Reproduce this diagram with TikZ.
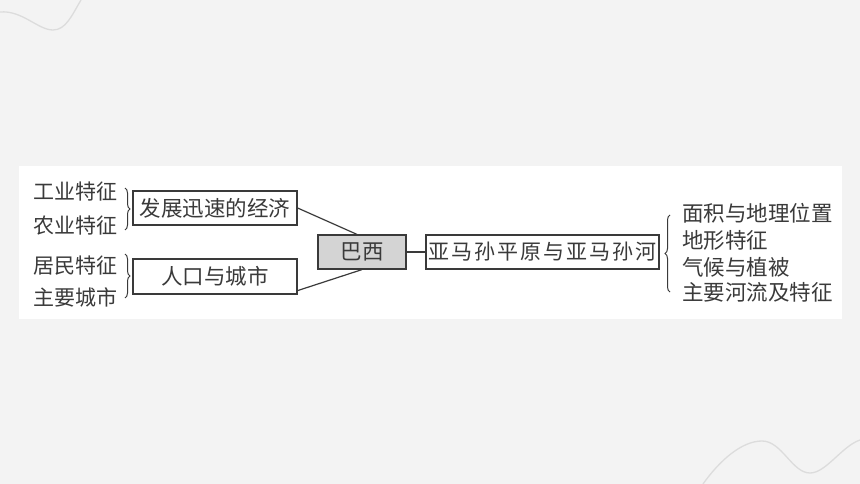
\documentclass[tikz,border=0pt]{standalone}
\usepackage{fontspec}
\newfontfamily\cjk{Noto Sans CJK SC}
\newfontfamily\cjkwide[LetterSpace=10]{Noto Sans CJK SC}
\usetikzlibrary{calc,decorations.pathreplacing}
\definecolor{bgc}{HTML}{F3F3F3}
\definecolor{curvec}{HTML}{DCDCDC}
\definecolor{inkc}{HTML}{3A3A3A}
\definecolor{boxfill}{HTML}{D4D4D4}
\tikzset{
  lbl/.style={font=\cjk\fontsize{21.5}{24}\selectfont, text=inkc, inner sep=0pt, anchor=west},
  cbox/.style={draw=inkc, line width=1.2pt, font=\cjk\fontsize{21.5}{24}\selectfont, text=inkc, inner sep=0pt, minimum height=34pt},
  link/.style={draw=inkc, line width=1.2pt},
  brc/.style={draw=inkc, line width=1pt, decorate, decoration={brace, amplitude=5pt}},
  deco/.style={draw=curvec, line width=1.3pt}
}
\begin{document}
\begin{tikzpicture}[x=1pt,y=-1pt]
\useasboundingbox (0,0) rectangle (860,484);
\fill[bgc] (0,0) rectangle (860,484);
\draw[deco] (0,12) .. controls (22,10) and (38,30) .. (53,30) .. controls (66,30) and (72,15) .. (81,0);
\draw[deco] (703,484) .. controls (720,460) and (742,441) .. (762,441) .. controls (782,441) and (792,473) .. (810,473) .. controls (826,473) and (842,446) .. (860,440);
\fill[white] (19,166) rectangle (842,319);

\node[cbox, minimum width=164pt] (econ) at (215,208) {发展迅速的经济};
\node[cbox, minimum width=164pt, minimum height=35pt] (pop) at (215,276.5) {人口与城市};
\node[cbox, minimum width=88pt, fill=boxfill] (baxi) at (362,252) {巴西};
\node[cbox, minimum width=233pt, font=\cjkwide\fontsize{21}{24}\selectfont] (amz) at (542.5,252) {亚马孙平原与亚马孙河};

\draw[link] (econ.east) -- ($(baxi.north)+(-5,0)$);
\draw[link] ($(pop.south east)+(0,-4)$) -- (baxi.south);
\draw[link] (baxi.east) -- (amz.west);

\node[lbl, font=\cjk\fontsize{21}{24}\selectfont] (t1) at (33,192) {工业特征};
\node[lbl, font=\cjk\fontsize{21}{24}\selectfont] (t2) at (33,226) {农业特征};
\node[lbl, font=\cjk\fontsize{21}{24}\selectfont] (t3) at (33,266) {居民特征};
\node[lbl, font=\cjk\fontsize{21}{24}\selectfont] (t4) at (33,297) {主要城市};

\coordinate (b1a) at (125,188);
\coordinate (b1b) at (125,230);
\coordinate (b2a) at (125,254);
\coordinate (b2b) at (125,298);
\draw[brc] (b1a) -- (b1b);
\draw[brc] (b2a) -- (b2b);

\coordinate (b3a) at (670,292);
\coordinate (b3b) at (670,215);
\draw[brc] (b3a) -- (b3b);

\node[lbl] (r1) at (682,213) {面积与地理位置};
\node[lbl] (r2) at (682,240) {地形特征};
\node[lbl] (r3) at (682,267) {气候与植被};
\node[lbl] (r4) at (682,292) {主要河流及特征};
\end{tikzpicture}
\end{document}
